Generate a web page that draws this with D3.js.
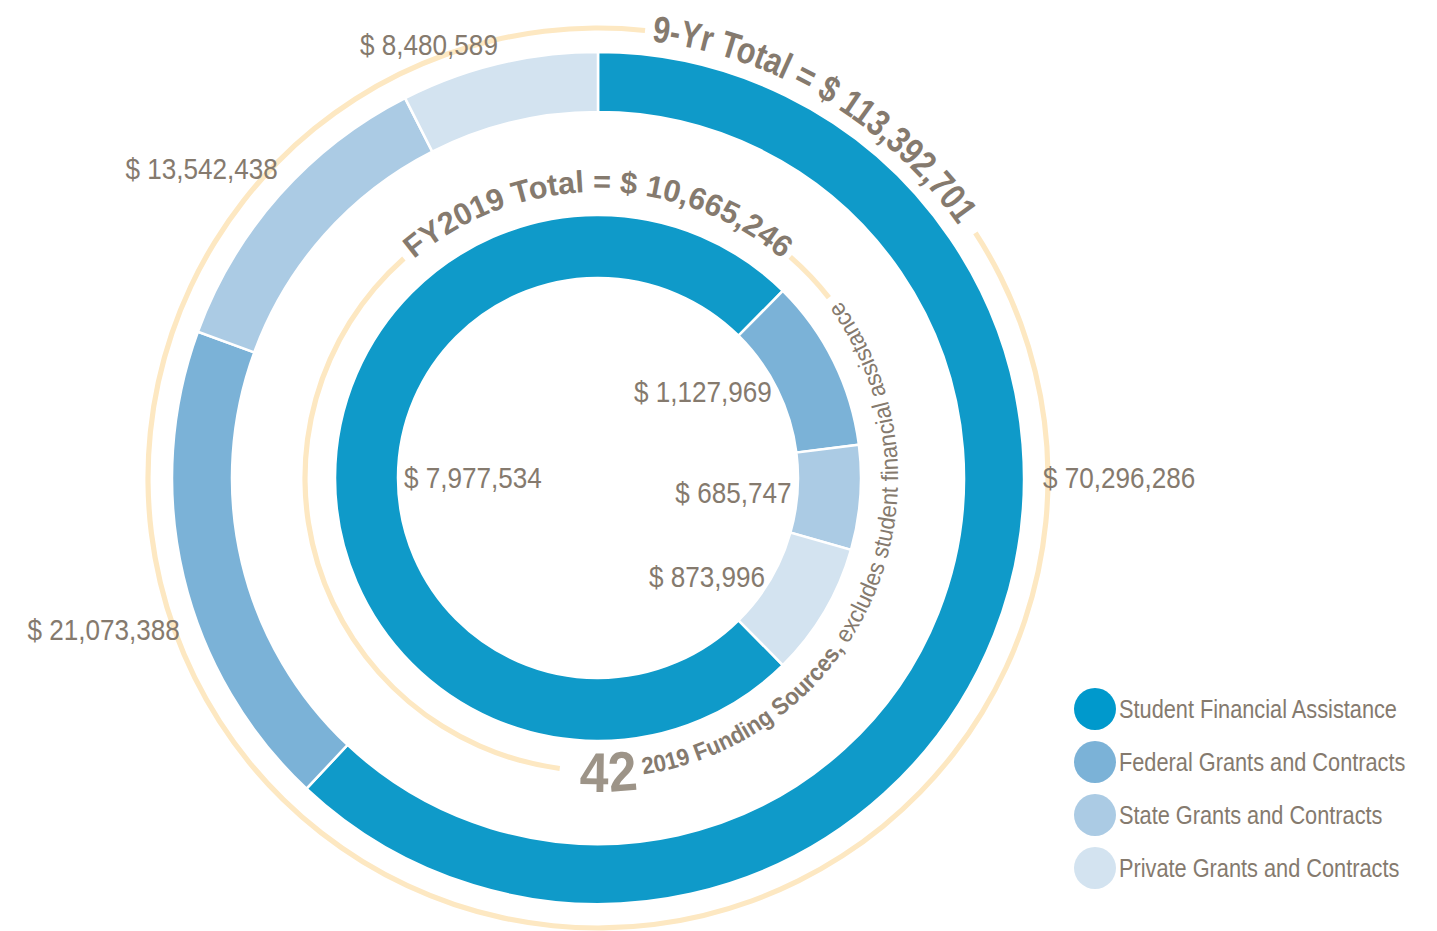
<!DOCTYPE html>
<html>
<head>
<meta charset="utf-8">
<script src="https://cdn.jsdelivr.net/npm/d3@7"></script>
<style>
	body { margin: 0; background: #fff; }
	svg text {
		font-family: 'Liberation Sans', Arial, sans-serif;
		fill: #857a6e;
	}
</style>
</head>
<body>
<div class="visContainer"></div>
<script>
const categories = [
	'Student Financial Assistance',
	'Federal Grants and Contracts',
	'State Grants and Contracts',
	'Private Grants and Contracts'
];
const nineYearValues = [70296286, 21073388, 13542438, 8480589];
const fy2019Values = [7977534, 1127969, 685747, 873996];
const nineYearTitle = '9-Yr Total = $ 113,392,701';
const fy2019Title = 'FY2019 Total = $ 10,665,246';
const sourceCount = '42';
const sourceNoteBold = ' 2019 Funding Sources,';
const sourceNote = ' excludes student financial assistance';

const w = 1437;
const h = 931;
const cx = 598;
const cy = 478;
const deg = Math.PI / 180;
const narrow = 'scale(0.87,1)'; // no condensed face installed, squeeze instead

const ringColor = d3.scaleOrdinal().domain(categories)
	.range(['#0f9ac9', '#7bb2d7', '#abcbe4', '#d3e3f0']);
const dotColor = d3.scaleOrdinal().domain(categories)
	.range(['#0099cc', '#7bb2d7', '#abcbe4', '#d3e3f0']);
const fmt = (v) => '$ ' + d3.format(',')(v);

const svg = d3.select('.visContainer')
	.append('svg')
	.attr('width', w)
	.attr('height', h);

const g = svg.append('g').attr('transform', `translate(${cx},${cy})`);

// yellow guide rings, with gaps where the titles sit
const guide = d3.arc();
const guides = [
	{ r: 450, a0: 57, a1: 366 },
	{ r: 293, a0: 187.5, a1: 318.5 },
	{ r: 293, a0: 41, a1: 52 }
];
g.selectAll('path.guide')
	.data(guides)
	.enter()
	.append('path')
	.attr('class', 'guide')
	.attr('d', (d) => guide({ innerRadius: d.r - 2.6, outerRadius: d.r + 2.6, startAngle: d.a0 * deg, endAngle: d.a1 * deg }))
	.style('fill', '#fde8c2');

// outer ring: 9 year totals
const outerPie = d3.pie().sort(null).value((d) => d.value);
const outerData = outerPie(categories.map((c, i) => ({ cat: c, value: nineYearValues[i] })));
const outerArc = d3.arc().innerRadius(366).outerRadius(426);

g.selectAll('path.outer')
	.data(outerData)
	.enter()
	.append('path')
	.attr('class', 'outer')
	.attr('d', outerArc)
	.style('fill', (d) => ringColor(d.data.cat))
	.style('stroke', '#fff')
	.style('stroke-width', 2.5);

// inner ring: FY2019, student slice centred on the left
const studentShare = fy2019Values[0] / d3.sum(fy2019Values);
const innerStart = (270 - studentShare * 180) * deg;
const innerPie = d3.pie().sort(null).value((d) => d.value)
	.startAngle(innerStart)
	.endAngle(innerStart + 2 * Math.PI);
const innerData = innerPie(categories.map((c, i) => ({ cat: c, value: fy2019Values[i] })));
const innerArc = d3.arc().innerRadius(200).outerRadius(263);

g.selectAll('path.inner')
	.data(innerData)
	.enter()
	.append('path')
	.attr('class', 'inner')
	.attr('d', innerArc)
	.style('fill', (d) => ringColor(d.data.cat))
	.style('stroke', '#fff')
	.style('stroke-width', 2.5);

// inner value labels, just inside the hole
const innerLabelArc = d3.arc().innerRadius(194).outerRadius(194);
g.selectAll('text.innerLabel')
	.data(innerData)
	.enter()
	.append('text')
	.attr('class', 'innerLabel')
	.attr('transform', (d) => `translate(${innerLabelArc.centroid(d)}) ${narrow}`)
	.attr('text-anchor', (d) => (Math.sin((d.startAngle + d.endAngle) / 2) > 0 ? 'end' : 'start'))
	.attr('dominant-baseline', 'central')
	.style('font-size', '30px')
	.text((d) => fmt(d.value));

// outer value labels, hand placed round the guide ring
const outerLabelAngles = [90, 250, 314, 347];
g.selectAll('text.outerLabel')
	.data(outerData)
	.enter()
	.append('text')
	.attr('class', 'outerLabel')
	.attr('transform', (d, i) => {
		const a = outerLabelAngles[i] * deg;
		return `translate(${445 * Math.sin(a)},${-445 * Math.cos(a)}) ${narrow}`;
	})
	.attr('text-anchor', (d, i) => (i === 0 ? 'start' : 'end'))
	.attr('dominant-baseline', 'central')
	.style('font-size', '30px')
	.text((d) => fmt(d.value));

// curved titles
function circlePath(r, from, to, ccw) {
	const p = d3.path();
	p.arc(0, 0, r, (from - 90) * deg, (to - 90) * deg, ccw);
	return p.toString();
}

const defs = svg.append('defs');
defs.append('path').attr('id', 'nineYrPath').attr('d', circlePath(440, 7, 90, false));
defs.append('path').attr('id', 'fyPath').attr('d', circlePath(286, -90, 90, false));
defs.append('path').attr('id', 'notePath').attr('d', circlePath(300, 190, 20, true));

g.append('text')
	.style('font-size', '37px')
	.style('font-weight', 'bold')
	.append('textPath')
	.attr('href', '#nineYrPath')
	.attr('textLength', 368)
	.attr('lengthAdjust', 'spacingAndGlyphs')
	.text(nineYearTitle);

g.append('text')
	.style('font-size', '31px')
	.style('font-weight', 'bold')
	.append('textPath')
	.attr('href', '#fyPath')
	.attr('startOffset', '50%')
	.attr('text-anchor', 'middle')
	.attr('textLength', 400)
	.attr('lengthAdjust', 'spacingAndGlyphs')
	.text(fy2019Title);

const note = g.append('text')
	.style('font-size', '24px')
	.append('textPath')
	.attr('href', '#notePath')
	.attr('startOffset', 34)
	.attr('textLength', 679)
	.attr('lengthAdjust', 'spacingAndGlyphs');
note.append('tspan')
	.attr('dy', 14)
	.style('font-size', '56px')
	.style('font-weight', 'bold')
	.style('fill', '#9d9488')
	.text(sourceCount);
note.append('tspan')
	.attr('dy', -14)
	.style('font-weight', 'bold')
	.text(sourceNoteBold);
note.append('tspan')
	.text(sourceNote);

// legend
const legendY = d3.scalePoint().domain(categories).range([709, 868]);
const legend = svg.append('g')
	.selectAll('g')
	.data(categories)
	.enter()
	.append('g')
	.attr('transform', (d) => `translate(1095,${legendY(d)})`);

legend.append('circle')
	.attr('r', 21)
	.style('fill', (d) => dotColor(d));

legend.append('text')
	.attr('transform', `translate(24,0) ${narrow}`)
	.attr('dominant-baseline', 'central')
	.style('font-size', '25px')
	.text((d) => d);
</script>
</body>
</html>
